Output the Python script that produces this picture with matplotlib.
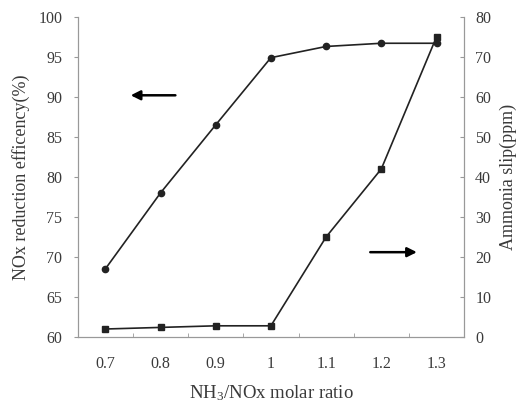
import matplotlib.pyplot as plt

plt.rcParams['font.family'] = ['Liberation Serif', 'DejaVu Serif']
plt.rcParams['mathtext.fontset'] = 'custom'
plt.rcParams['mathtext.rm'] = 'Liberation Serif'
plt.rcParams['mathtext.default'] = 'regular'

ratio = ['0.7', '0.8', '0.9', '1', '1.1', '1.2', '1.3']
efficiency = [68.5, 78.0, 86.5, 94.9, 96.3, 96.7, 96.7]
slip = [2.0, 2.4, 2.8, 2.8, 25.0, 42.0, 75.0]

fig = plt.figure(figsize=(5.25, 4.11), dpi=100)
ax = fig.add_axes([0.148, 0.18, 0.736, 0.779])
ax2 = ax.twinx()

x = range(len(ratio))
ax.plot(x, efficiency, color='#222222', lw=1.2, marker='o', ms=4.5)
ax2.plot(x, slip, color='#222222', lw=1.2, marker='s', ms=5)

ax.set_xlim(-0.5, len(ratio) - 0.5)
ax.set_ylim(60, 100)
ax2.set_ylim(0, 80)
ax.set_xticks(list(x))
ax.set_xticklabels(ratio)
ax.set_xticks([i + 0.5 for i in range(len(ratio) - 1)], minor=True)
ax.tick_params(axis='x', which='major', length=0, pad=14)
ax.tick_params(axis='x', which='minor', direction='in', length=3, color='#999999')
ax.tick_params(axis='y', direction='out', length=3, color='#999999', pad=8)
ax2.tick_params(axis='y', direction='in', length=3, color='#999999', pad=8)
for a in (ax, ax2):
    a.tick_params(labelsize=11.5, labelcolor='#3a3a3a')
    a.spines['top'].set_visible(False)
    for s in ('left', 'right', 'bottom'):
        a.spines[s].set_color('#999999')

ax.set_yticks(range(60, 101, 5))
ax2.set_yticks(range(0, 81, 10))

ax.set_xlabel('NH$_3$/NOx molar ratio', fontsize=13.5, color='#3a3a3a', labelpad=8)
ax.set_ylabel('NOx reduction efficency(%)', fontsize=13, color='#3a3a3a', labelpad=6)
ax2.set_ylabel('Ammonia slip(ppm)', fontsize=13, color='#3a3a3a', labelpad=6)

ax.annotate('', xy=(0.13, 0.755), xytext=(0.26, 0.755), xycoords='axes fraction',
            arrowprops=dict(arrowstyle='-|>', color='black', lw=1.8, mutation_scale=14))
ax.annotate('', xy=(0.885, 0.265), xytext=(0.75, 0.265), xycoords='axes fraction',
            arrowprops=dict(arrowstyle='-|>', color='black', lw=1.8, mutation_scale=14))

fig.savefig('out.png', dpi=100)
